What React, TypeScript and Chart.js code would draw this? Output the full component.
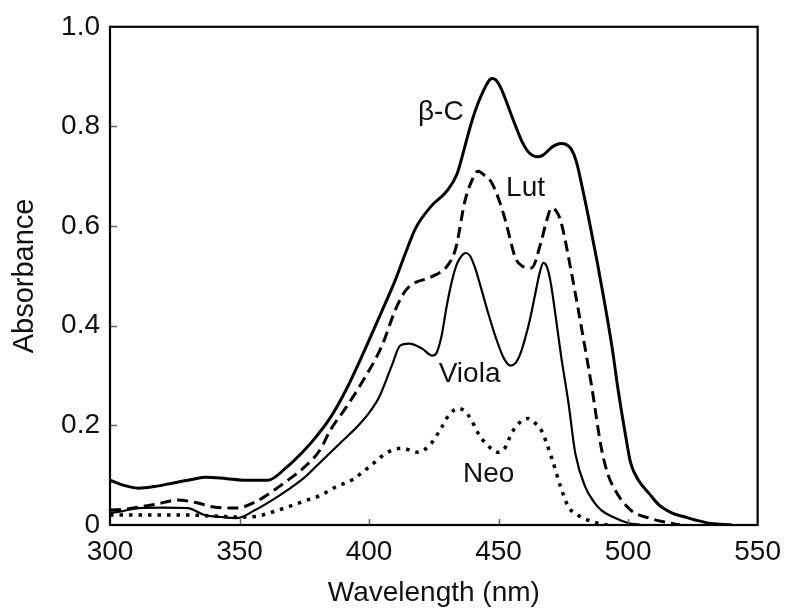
import { useEffect, useRef } from "react";
import { Chart, registerables } from "chart.js";

Chart.register(...registerables);

// ---- data ----
const betaCWavelength = [300, 305, 311, 318, 325, 332, 337, 345, 352, 361, 368, 375, 380, 385, 391, 397, 405, 410, 414, 418, 424, 430, 434, 437, 440, 444, 447.5, 449, 451, 453, 455, 457, 459, 461, 463, 465, 467, 471, 474, 476, 478, 480, 482, 485, 488, 491, 494, 496, 499, 501, 504, 508, 512, 517, 522, 526, 532, 540];
const betaCAbsorbance = [0.09, 0.08, 0.074, 0.078, 0.085, 0.092, 0.096, 0.093, 0.09, 0.09, 0.115, 0.15, 0.18, 0.215, 0.27, 0.336, 0.43, 0.49, 0.545, 0.596, 0.64, 0.67, 0.705, 0.76, 0.816, 0.87, 0.896, 0.893, 0.876, 0.85, 0.822, 0.795, 0.77, 0.752, 0.742, 0.739, 0.742, 0.76, 0.766, 0.764, 0.755, 0.73, 0.685, 0.61, 0.53, 0.444, 0.35, 0.276, 0.18, 0.124, 0.09, 0.064, 0.04, 0.024, 0.016, 0.01, 0.003, 0];

const lutWavelength = [300, 306, 311, 318, 326, 334, 340, 349, 356, 360, 365, 370, 375, 381, 385, 391, 397, 405, 410, 414, 418, 422, 426, 429.6, 433.5, 437, 440, 442, 445, 447, 450, 452.7, 456.5, 459, 462.7, 466.5, 468.5, 470.4, 472, 474, 478, 482, 486, 489.6, 492, 495, 501, 508, 515, 520];
const lutAbsorbance = [0.03, 0.032, 0.036, 0.042, 0.05, 0.044, 0.036, 0.034, 0.046, 0.058, 0.076, 0.095, 0.116, 0.15, 0.19, 0.235, 0.284, 0.36, 0.43, 0.47, 0.487, 0.494, 0.503, 0.516, 0.556, 0.65, 0.695, 0.71, 0.7, 0.69, 0.655, 0.61, 0.536, 0.52, 0.516, 0.57, 0.61, 0.636, 0.632, 0.61, 0.51, 0.396, 0.276, 0.156, 0.105, 0.07, 0.03, 0.014, 0.005, 0];

const violaWavelength = [300, 305, 311, 320, 330, 336.5, 343, 349, 356, 362, 368.5, 375, 380, 385, 390, 395, 400, 404, 409, 412, 415.4, 420.5, 424.4, 426, 428, 430, 432, 434, 436, 437.5, 439, 441, 443, 446, 449, 452, 454.6, 456.5, 458.5, 460, 462, 464, 465.8, 467.3, 468.5, 470, 472, 474, 477, 479.6, 483.5, 487, 489.6, 495, 500, 505];
const violaAbsorbance = [0.024, 0.028, 0.034, 0.035, 0.034, 0.02, 0.016, 0.014, 0.03, 0.048, 0.07, 0.095, 0.12, 0.145, 0.17, 0.195, 0.225, 0.258, 0.323, 0.36, 0.364, 0.354, 0.34, 0.345, 0.38, 0.44, 0.49, 0.525, 0.542, 0.546, 0.54, 0.515, 0.48, 0.425, 0.375, 0.335, 0.32, 0.325, 0.345, 0.37, 0.41, 0.46, 0.505, 0.526, 0.52, 0.49, 0.42, 0.344, 0.244, 0.144, 0.076, 0.045, 0.03, 0.014, 0.004, 0];

const neoWavelength = [300, 310, 320, 330, 340, 349, 356, 362, 368.5, 375, 381.5, 387, 394, 397, 402, 406.5, 412.7, 419, 424, 428, 431, 434.6, 437, 439.6, 442, 445, 450, 452.5, 455, 458, 461.5, 464, 466.5, 470.4, 474, 477, 480, 483.5, 488, 492];
const neoAbsorbance = [0.02, 0.02, 0.02, 0.02, 0.018, 0.016, 0.017, 0.025, 0.036, 0.048, 0.06, 0.076, 0.092, 0.104, 0.125, 0.144, 0.154, 0.146, 0.164, 0.196, 0.222, 0.234, 0.228, 0.21, 0.185, 0.164, 0.146, 0.155, 0.184, 0.205, 0.214, 0.205, 0.19, 0.136, 0.076, 0.036, 0.022, 0.012, 0.004, 0];

const seriesNames = ["β-C", "Lut", "Viola", "Neo"];
const labelWavelength = [427.7, 460.4, 438.8, 446.2];
const labelAbsorbance = [0.828, 0.676, 0.302, 0.102];

const xTickValues = [300, 350, 400, 450, 500, 550];
const yTickValues = [0, 0.2, 0.4, 0.6, 0.8, 1.0];
const yTickLabels = ["0", "0.2", "0.4", "0.6", "0.8", "1.0"];

const xTitle = "Wavelength (nm)";
const yTitle = "Absorbance";

const FONT = "'Liberation Sans', Arial, Helvetica, sans-serif";

const zip = (xs: number[], ys: number[]) => xs.map((x, i) => ({ x, y: ys[i] }));

const framePlugin = {
  id: "frameAndTicks",
  afterDatasetsDraw(chart: any) {
    const { ctx, chartArea, scales } = chart;
    const { left, right, top, bottom } = chartArea;
    ctx.save();
    ctx.strokeStyle = "#666";
    ctx.lineWidth = 1.5;
    ctx.beginPath();
    for (const v of yTickValues) {
      if (v <= 0 || v >= 1) continue;
      const py = Math.round(scales.y.getPixelForValue(v)) + 0.5;
      ctx.moveTo(left, py);
      ctx.lineTo(left + 7, py);
    }
    for (const v of xTickValues) {
      if (v <= 300 || v >= 550) continue;
      const px = Math.round(scales.x.getPixelForValue(v)) + 0.5;
      ctx.moveTo(px, bottom);
      ctx.lineTo(px, bottom - 6);
    }
    ctx.stroke();
    ctx.strokeStyle = "#000";
    ctx.lineWidth = 2.2;
    ctx.strokeRect(left, top, right - left, bottom - top);
    ctx.restore();
  },
  afterDraw(chart: any) {
    const { ctx, scales } = chart;
    ctx.save();
    ctx.fillStyle = "#111";
    ctx.font = `28px ${FONT}`;
    ctx.textAlign = "center";
    ctx.textBaseline = "middle";
    seriesNames.forEach((name, i) => {
      const px = scales.x.getPixelForValue(labelWavelength[i]);
      const py = scales.y.getPixelForValue(labelAbsorbance[i]);
      ctx.fillText(name, px, py);
    });
    ctx.restore();
  },
};

export default function App() {
  const canvasRef = useRef<HTMLCanvasElement | null>(null);

  useEffect(() => {
    document.body.style.margin = "0";
    const canvas = canvasRef.current;
    if (!canvas) return;
    const chart = new Chart(canvas, {
      type: "line",
      data: {
        datasets: [
          {
            label: seriesNames[0],
            data: zip(betaCWavelength, betaCAbsorbance),
            borderColor: "#000",
            borderWidth: 3,
            pointRadius: 0,
            cubicInterpolationMode: "monotone",
          },
          {
            label: seriesNames[1],
            data: zip(lutWavelength, lutAbsorbance),
            borderColor: "#000",
            borderWidth: 3,
            borderDash: [11, 6],
            pointRadius: 0,
            cubicInterpolationMode: "monotone",
          },
          {
            label: seriesNames[2],
            data: zip(violaWavelength, violaAbsorbance),
            borderColor: "#000",
            borderWidth: 2.2,
            pointRadius: 0,
            cubicInterpolationMode: "monotone",
          },
          {
            label: seriesNames[3],
            data: zip(neoWavelength, neoAbsorbance),
            borderColor: "#000",
            borderWidth: 3.5,
            borderDash: [3.5, 6],
            pointRadius: 0,
            cubicInterpolationMode: "monotone",
          },
        ],
      },
      options: {
        responsive: false,
        maintainAspectRatio: false,
        animation: false,
        devicePixelRatio: 1,
        layout: { padding: { top: 25, right: 32, left: 0, bottom: 0 } },
        plugins: {
          legend: { display: false },
          tooltip: { enabled: false },
        },
        scales: {
          x: {
            type: "linear",
            min: 300,
            max: 550,
            afterFit: (s: any) => {
              s.height = 88;
            },
            afterBuildTicks: (s: any) => {
              s.ticks = xTickValues.map((v) => ({ value: v }));
            },
            grid: { display: false, drawTicks: false },
            border: { display: false },
            ticks: {
              color: "#111",
              font: { family: FONT, size: 28 },
              padding: 10,
              maxRotation: 0,
              callback: (v: any) => String(v),
            },
            title: {
              display: true,
              text: xTitle,
              color: "#111",
              font: { family: FONT, size: 28 },
              padding: { top: 0, bottom: 3 },
            },
          },
          y: {
            type: "linear",
            min: 0,
            max: 1,
            afterFit: (s: any) => {
              s.width = 110;
            },
            afterBuildTicks: (s: any) => {
              s.ticks = yTickValues.map((v) => ({ value: v }));
            },
            grid: { display: false, drawTicks: false },
            border: { display: false },
            ticks: {
              color: "#111",
              font: { family: FONT, size: 28 },
              padding: 10,
              callback: (_v: any, i: number) => yTickLabels[i],
            },
            title: {
              display: true,
              text: yTitle,
              color: "#111",
              font: { family: FONT, size: 29 },
              padding: { top: 8, bottom: 0 },
            },
          },
        },
      },
      plugins: [framePlugin],
    } as any);
    return () => chart.destroy();
  }, []);

  return (
    <div style={{ position: "absolute", left: 0, top: 0, width: 791, height: 613, background: "#fff" }}>
      <canvas ref={canvasRef} width={791} height={613} />
    </div>
  );
}
